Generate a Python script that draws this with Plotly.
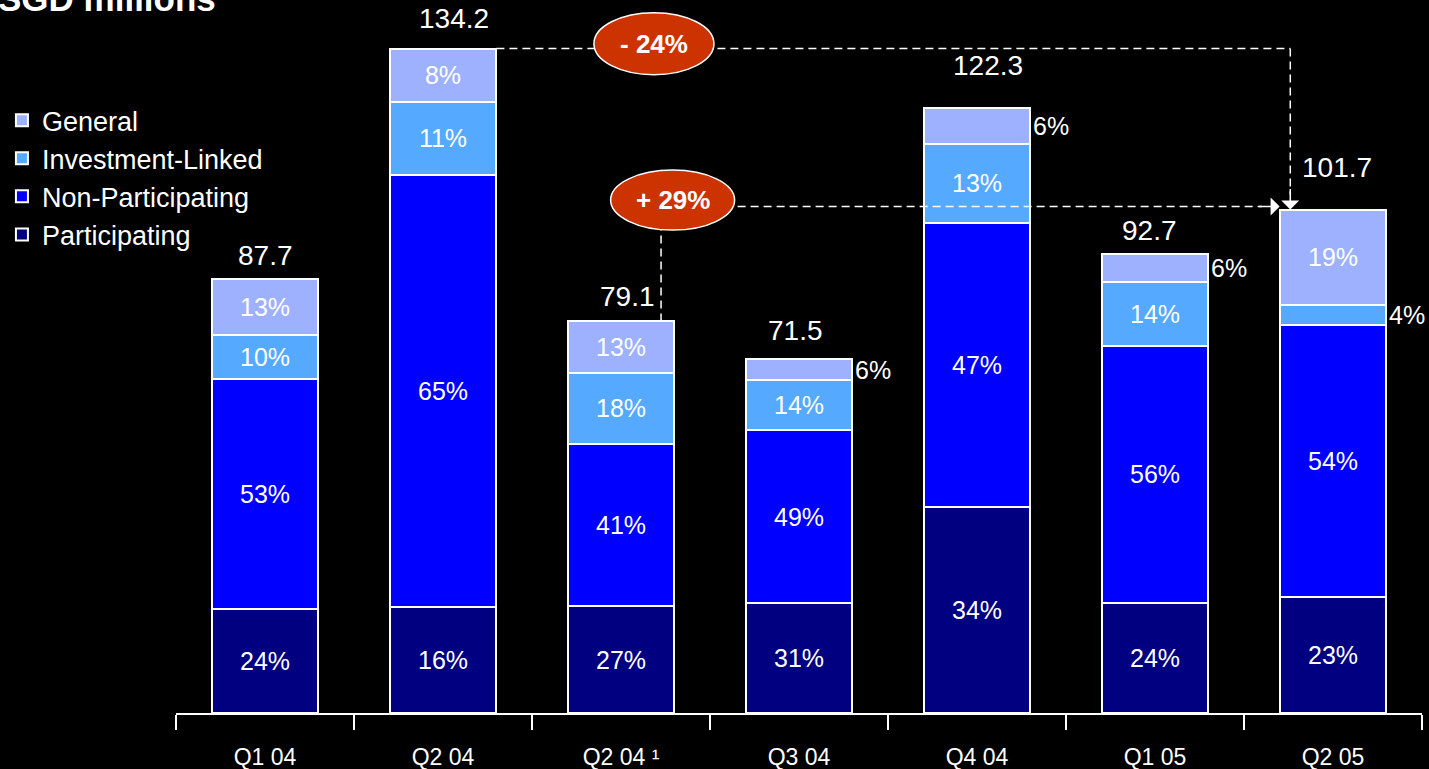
import plotly.graph_objects as go

# data (SGD millions, share of each quarter in %)
quarters = ["Q1 04", "Q2 04", "Q2 04 \u00b9", "Q3 04", "Q4 04", "Q1 05", "Q2 05"]
totals = [87.7, 134.2, 79.1, 71.5, 122.3, 92.7, 101.7]
participating = [24, 16, 27, 31, 34, 24, 23]
non_participating = [53, 65, 41, 49, 47, 56, 54]
investment_linked = [10, 11, 18, 14, 13, 14, 4]
general = [13, 8, 13, 6, 6, 6, 19]

series = [
    ("Participating", participating, "#000080"),
    ("Non-Participating", non_participating, "#0000FF"),
    ("Investment-Linked", investment_linked, "#55AAFF"),
    ("General", general, "#9DB1FF"),
]

# pixel nudges of the total labels, as placed on the original slide
total_dx = [0, 11, 6, -4, 11, -6, 4]
total_dy = [6, 13, 7, 11, 25, 6, 25]

FONT = "Arial, Liberation Sans, sans-serif"
BAR_W = 0.6

fig = go.Figure()
annotations = []
base = [0.0] * len(quarters)

for name, pcts, color in series:
    vals = []
    texts = []
    for i, p in enumerate(pcts):
        share = sum(s[1][i] for s in series)
        v = totals[i] * p / share
        vals.append(v)
        if p < 7:
            # small slices get their label beside the bar
            texts.append("")
            annotations.append(dict(
                x=i + BAR_W / 2, y=base[i] + v / 2, text=f"{p}%", showarrow=False,
                xanchor="left", xshift=1, font=dict(size=25, color="white", family=FONT)))
        else:
            texts.append(f"{p}%")
        base[i] += v
    fig.add_trace(go.Bar(
        x=quarters, y=vals, name=name, text=texts, width=BAR_W,
        marker=dict(color=color, line=dict(color="white", width=2)),
        textposition="inside", insidetextanchor="middle", constraintext="none",
        textangle=0, textfont=dict(size=25, color="white", family=FONT),
        hoverinfo="skip", legendgroup=name,
    ))

# totals above bars
for i, t in enumerate(totals):
    annotations.append(dict(
        x=quarters[i], y=t, text=f"{t}", showarrow=False, yanchor="bottom",
        yshift=total_dy[i], xshift=total_dx[i],
        font=dict(size=28, color="white", family=FONT)))

# growth call-outs
line_style = dict(color="white", width=1.5, dash="8px,5px")
shapes = [
    # -24% : Q2 04 -> Q2 05
    dict(type="line", xref="x", yref="y", x0=1 + BAR_W / 2, x1=5.76,
         y0=totals[1], y1=totals[1], line=line_style),
    dict(type="line", xref="x", yref="y", x0=5.76, x1=5.76,
         y0=totals[1], y1=totals[6] + 3, line=line_style),
    # +29% : Q2 04 restated -> Q2 05
    dict(type="line", xref="x", yref="y", x0=2.225, x1=2.225,
         y0=totals[2], y1=totals[6] + 1, line=line_style),
    dict(type="line", xref="x", yref="y", x0=2.29, x1=5.6,
         y0=totals[6] + 0.6, y1=totals[6] + 0.6, line=line_style),
]
for cx, cy, w, h in [(2.185, 135.2, 120, 62), (2.29, 103.6, 124, 60)]:
    shapes.append(dict(type="circle", xref="x", yref="y", xsizemode="pixel",
                       ysizemode="pixel", xanchor=cx, yanchor=cy,
                       x0=-w / 2, x1=w / 2, y0=-h / 2, y1=h / 2,
                       fillcolor="#CC3300", line=dict(color="white", width=1.5),
                       layer="above"))

annotations += [
    dict(x=2.185, y=135.2, text="<b>- 24%</b>", showarrow=False,
         font=dict(size=26, color="white", family=FONT)),
    dict(x=2.29, y=103.6, text="<b>+ 29%</b>", showarrow=False,
         font=dict(size=26, color="white", family=FONT)),
    dict(x=5.76, y=totals[6], text="", showarrow=True, ax=0, ay=-22,
         arrowhead=1, arrowsize=2, arrowwidth=1.5, arrowcolor="white", standoff=0),
    dict(x=5.7, y=totals[6] + 0.6, text="", showarrow=True, ax=-22, ay=0,
         arrowhead=1, arrowsize=2, arrowwidth=1.5, arrowcolor="white", standoff=0),
    dict(xref="paper", yref="paper", x=-0.1445, y=1.017, xanchor="left",
         yanchor="middle", text="<b>SGD millions</b>", showarrow=False,
         font=dict(size=35, color="white", family=FONT)),
]

fig.update_layout(
    barmode="stack",
    width=1429, height=769,
    paper_bgcolor="black", plot_bgcolor="black",
    margin=dict(l=176, r=7, t=10, b=56, autoexpand=False),
    font=dict(family=FONT, color="white"),
    showlegend=True,
    legend=dict(x=-0.1397, y=0.8775, xanchor="left", yanchor="top",
                traceorder="reversed", tracegroupgap=13,
                font=dict(size=27, color="white", family=FONT),
                bgcolor="rgba(0,0,0,0)"),
    xaxis=dict(showline=True, linecolor="white", linewidth=2, automargin=False,
               ticks="outside", tickson="boundaries", ticklen=15,
               tickcolor="white", tickwidth=2, ticklabelstandoff=22,
               tickfont=dict(size=23, color="white", family=FONT),
               showgrid=False, range=[-0.5, 6.5]),
    yaxis=dict(visible=False, range=[0, 142]),
    shapes=shapes,
    annotations=annotations,
)

fig.write_html("out.html", config={"displayModeBar": False},
               post_script="document.body.style.margin='0';")
